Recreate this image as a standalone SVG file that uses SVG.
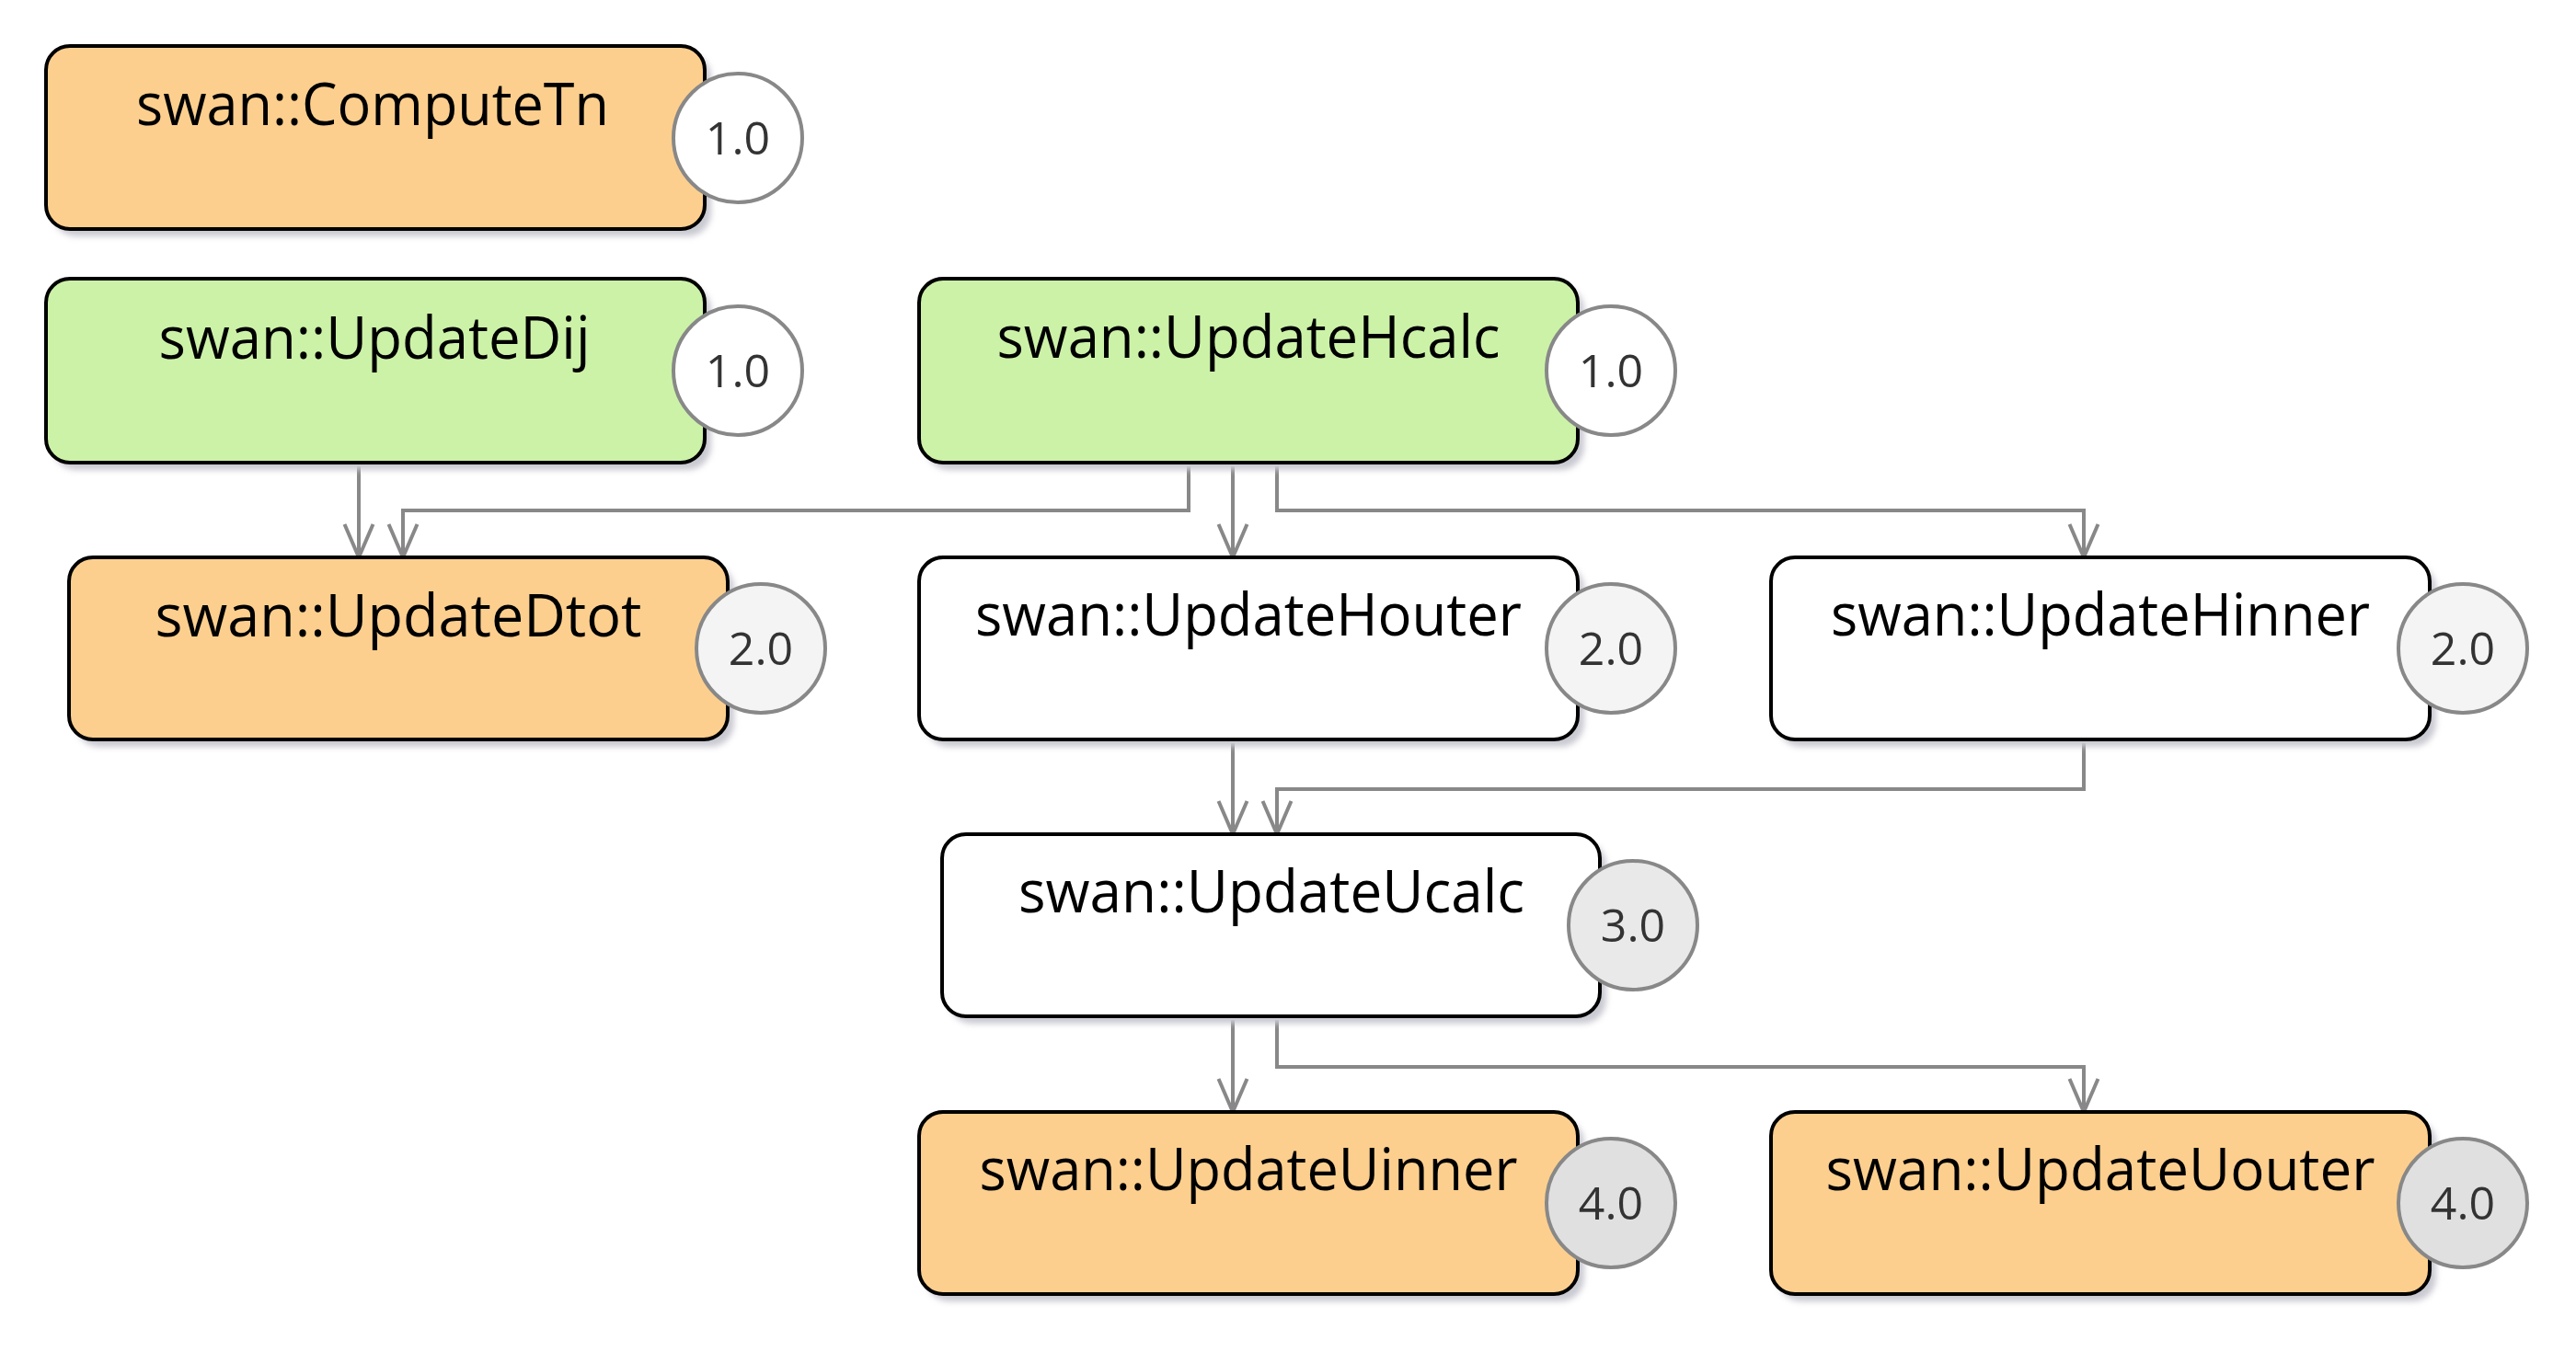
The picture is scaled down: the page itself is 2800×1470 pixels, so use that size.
<svg xmlns="http://www.w3.org/2000/svg" width="2800" height="1470" viewBox="0 0 2800 1470">
<defs>
<style>
.box{stroke:#000;stroke-width:4}
.sh{fill:#c9c9d2;filter:url(#blur)}
.orange{fill:#fdcf8e}
.green{fill:#ccf2a8}
.white{fill:#ffffff}
.lbl{font-family:"Open Sans","Noto Sans",sans-serif;font-size:64px;fill:#000;text-anchor:middle}
.badge{stroke:#888;stroke-width:4}
.num{font-family:"Open Sans","Noto Sans",sans-serif;font-size:50px;fill:#333;text-anchor:middle}
.edge{fill:none;stroke:#888;stroke-width:4;marker-end:url(#arr)}
</style>
<filter id="blur" x="-10%" y="-10%" width="120%" height="130%"><feGaussianBlur stdDeviation="3"/></filter>
<marker id="arr" markerUnits="userSpaceOnUse" viewBox="-40 -20 44 40" refX="0" refY="0" markerWidth="44" markerHeight="40" orient="auto" overflow="visible">
<path d="M-36,-15.5 L0,0 L-36,15.5" fill="none" stroke="#888" stroke-width="4"/>
</marker>
</defs>
<rect width="2800" height="1470" fill="#fff"/>

<g id="connectors">
<path class="edge" d="M390,507 V606"/>
<path class="edge" d="M1292,507 V555 H438 V606"/>
<path class="edge" d="M1340,507 V606"/>
<path class="edge" d="M1388,507 V555 H2265 V606"/>
<path class="edge" d="M1340,808 V907"/>
<path class="edge" d="M2265,808 V858 H1388 V907"/>
<path class="edge" d="M1340,1109 V1209"/>
<path class="edge" d="M1388,1109 V1160 H2265 V1209"/>
</g>

<g id="ComputeTn">
<rect class="sh" x="57" y="58" width="716" height="199" rx="26"/>
<rect class="box orange" x="50" y="50" width="716" height="199" rx="26"/>
<text class="lbl" x="405" y="136" textLength="514" lengthAdjust="spacingAndGlyphs">swan::ComputeTn</text>
<circle class="badge" cx="802" cy="150" r="70" fill="#ffffff"/>
<text class="num" x="802" y="168">1.0</text>
</g>

<g id="UpdateDij">
<rect class="sh" x="57" y="311" width="716" height="200" rx="26"/>
<rect class="box green" x="50" y="303" width="716" height="200" rx="26"/>
<text class="lbl" x="407" y="390" textLength="469" lengthAdjust="spacingAndGlyphs">swan::UpdateDij</text>
<circle class="badge" cx="802" cy="403" r="70" fill="#ffffff"/>
<text class="num" x="802" y="421">1.0</text>
</g>

<g id="UpdateHcalc">
<rect class="sh" x="1006" y="311" width="716" height="200" rx="26"/>
<rect class="box green" x="999" y="303" width="716" height="200" rx="26"/>
<text class="lbl" x="1357" y="389" textLength="547" lengthAdjust="spacingAndGlyphs">swan::UpdateHcalc</text>
<circle class="badge" cx="1751" cy="403" r="70" fill="#ffffff"/>
<text class="num" x="1751" y="421">1.0</text>
</g>

<g id="UpdateDtot">
<rect class="sh" x="82" y="614" width="716" height="198" rx="26"/>
<rect class="box orange" x="75" y="606" width="716" height="198" rx="26"/>
<text class="lbl" x="433" y="692" textLength="529" lengthAdjust="spacingAndGlyphs">swan::UpdateDtot</text>
<circle class="badge" cx="827" cy="705" r="70" fill="#f4f4f4"/>
<text class="num" x="827" y="723">2.0</text>
</g>

<g id="UpdateHouter">
<rect class="sh" x="1006" y="614" width="716" height="198" rx="26"/>
<rect class="box white" x="999" y="606" width="716" height="198" rx="26"/>
<text class="lbl" x="1357" y="691" textLength="594" lengthAdjust="spacingAndGlyphs">swan::UpdateHouter</text>
<circle class="badge" cx="1751" cy="705" r="70" fill="#f4f4f4"/>
<text class="num" x="1751" y="723">2.0</text>
</g>

<g id="UpdateHinner">
<rect class="sh" x="1932" y="614" width="716" height="198" rx="26"/>
<rect class="box white" x="1925" y="606" width="716" height="198" rx="26"/>
<text class="lbl" x="2283" y="691" textLength="586" lengthAdjust="spacingAndGlyphs">swan::UpdateHinner</text>
<circle class="badge" cx="2677" cy="705" r="70" fill="#f4f4f4"/>
<text class="num" x="2677" y="723">2.0</text>
</g>

<g id="UpdateUcalc">
<rect class="sh" x="1031" y="915" width="715" height="198" rx="26"/>
<rect class="box white" x="1024" y="907" width="715" height="198" rx="26"/>
<text class="lbl" x="1382" y="992" textLength="550" lengthAdjust="spacingAndGlyphs">swan::UpdateUcalc</text>
<circle class="badge" cx="1775" cy="1006" r="70" fill="#e9e9e9"/>
<text class="num" x="1775" y="1024">3.0</text>
</g>

<g id="UpdateUinner">
<rect class="sh" x="1006" y="1217" width="716" height="198" rx="26"/>
<rect class="box orange" x="999" y="1209" width="716" height="198" rx="26"/>
<text class="lbl" x="1357" y="1294" textLength="585" lengthAdjust="spacingAndGlyphs">swan::UpdateUinner</text>
<circle class="badge" cx="1751" cy="1308" r="70" fill="#e0e0e0"/>
<text class="num" x="1751" y="1326">4.0</text>
</g>

<g id="UpdateUouter">
<rect class="sh" x="1932" y="1217" width="716" height="198" rx="26"/>
<rect class="box orange" x="1925" y="1209" width="716" height="198" rx="26"/>
<text class="lbl" x="2283" y="1294" textLength="597" lengthAdjust="spacingAndGlyphs">swan::UpdateUouter</text>
<circle class="badge" cx="2677" cy="1308" r="70" fill="#e0e0e0"/>
<text class="num" x="2677" y="1326">4.0</text>
</g>
</svg>
